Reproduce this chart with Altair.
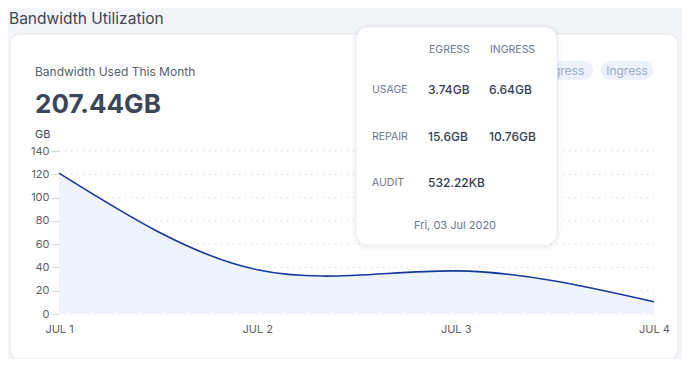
import altair as alt
import pandas as pd

# ---- data ----
days = ["JUL 1", "JUL 2", "JUL 3", "JUL 4"]
used_gb = [121, 38, 37, 10.5]
y_ticks = [0, 20, 40, 60, 80, 100, 120, 140]

legend_items = ["Egress", "Ingress"]
tip_columns = ["EGRESS", "INGRESS"]
tip_rows = ["USAGE", "REPAIR", "AUDIT"]
tip_egress = ["3.74GB", "15.6GB", "532.22KB"]
tip_ingress = ["6.64GB", "10.76GB", ""]
tip_date = "Fri, 03 Jul 2020"

page_title = "Bandwidth Utilization"
card_title = "Bandwidth Used This Month"
card_total = "207.44GB"
y_unit = "GB"

FONT = "Inter"
df = pd.DataFrame({"day": days, "gb": used_gb})
one = pd.DataFrame({"k": [0]})


def box(x1, x2, y1, y2, **kw):
    return alt.Chart(one).mark_rect(**kw).encode(
        x=alt.value(x1), x2=alt.value(x2), y=alt.value(y1), y2=alt.value(y2)
    )


def label(txt, x, y, size=11, color="#6b7790", weight="normal", align="left", baseline="middle"):
    return alt.Chart(pd.DataFrame({"t": [txt]})).mark_text(
        font=FONT, fontSize=size, color=color, fontWeight=weight,
        align=align, baseline=baseline
    ).encode(x=alt.value(x), y=alt.value(y), text="t:N")


xscale = alt.Scale(domain=days, padding=0)
yscale = alt.Scale(domain=[0, 140], nice=False)
yaxis = alt.Axis(title=None, values=y_ticks, domain=False, grid=False,
                 tickSize=8, tickColor="#d6d9df", labelPadding=2,
                 labelFont=FONT, labelFontSize=11, labelColor="#5e5e5e",
                 zindex=1)

card = box(-49, 619, -117, 208, fill="white", stroke="#e3e6ec", strokeWidth=1, cornerRadius=9)

grid = alt.Chart(pd.DataFrame({"v": y_ticks})).mark_rule(
    color="#cdd1d8", strokeDash=[1, 5], strokeWidth=1
).encode(y=alt.Y("v:Q", scale=yscale, axis=yaxis))

area = alt.Chart(df).mark_area(interpolate="natural", color="#eff3fb", opacity=1).encode(
    x=alt.X("day:O", scale=xscale, sort=days,
            axis=alt.Axis(title=None, labelAngle=0, ticks=False, domain=False, grid=False,
                          labelFont=FONT, labelFontSize=11, labelColor="#5e5e5e",
                          labelPadding=9, zindex=1)),
    y=alt.Y("gb:Q", scale=yscale, axis=yaxis),
)
line = alt.Chart(df).mark_line(interpolate="natural", color="#17379a", strokeWidth=1.6).encode(
    x=alt.X("day:O", scale=xscale, sort=days),
    y=alt.Y("gb:Q", scale=yscale, axis=yaxis),
)

texts = [
    label(page_title, -50, -127, size=15.5, color="#3a4556", baseline="alphabetic"),
    label(card_title, -24, -75, size=12, color="#56606e", baseline="alphabetic"),
    label(card_total, -24, -38, size=26, color="#3b4659", weight="bold", baseline="alphabetic"),
    label(y_unit, -24, -13, size=11, color="#3a4556", baseline="alphabetic"),
]

# legend pills
pills = [
    box(474, 534, -90, -71, fill="#edf1fb", cornerRadius=10),
    label(legend_items[0], 506, -80, size=12, color="#9eabc8", align="center"),
    box(542, 594, -90, -71, fill="#edf1fb", cornerRadius=10),
    label(legend_items[1], 568, -80, size=12, color="#9eabc8", align="center"),
]

# tooltip
tip = [
    box(293, 502, -127, 99, fill="#8a94a8", opacity=0.05, cornerRadius=16),
    box(295, 500, -126, 97, fill="#8a94a8", opacity=0.06, cornerRadius=14),
    box(297, 498, -124, 94, fill="white", stroke="#eceef2", strokeWidth=1, cornerRadius=12),
    label(tip_columns[0], 370, -101, size=10.5),
    label(tip_columns[1], 431, -101, size=10.5),
]
row_y = [-61, -14, 32]
for i, r in enumerate(tip_rows):
    tip.append(label(r, 313, row_y[i], size=10.5))
    tip.append(label(tip_egress[i], 369, row_y[i], size=12, color="#333e52", weight=500))
    if tip_ingress[i]:
        tip.append(label(tip_ingress[i], 430, row_y[i], size=12, color="#333e52", weight=500))
tip.append(label(tip_date, 396, 75, size=11, align="center"))

chart = alt.layer(card, *texts, *pills, grid, area, line, *tip).properties(
    width=595, height=163,
    autosize=alt.AutoSizeParams(type="none"),
    padding={"left": 51, "top": 143, "right": 28, "bottom": 45},
    background="#f4f5f8",
).configure_view(stroke=None)

chart.save("out.html", embed_options={"renderer": "svg", "actions": False})
